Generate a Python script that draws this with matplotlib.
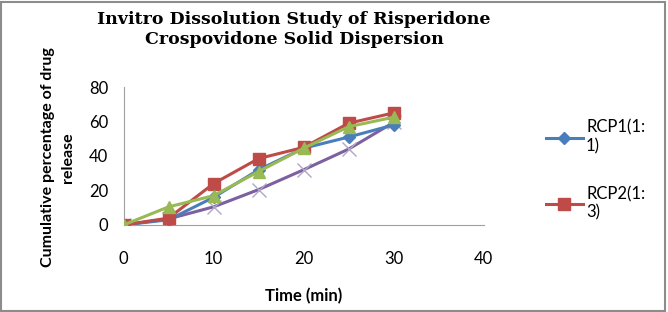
import matplotlib
matplotlib.use("Agg")
import matplotlib.pyplot as plt

time = [0, 5, 10, 15, 20, 25, 30]
rcp1 = [0, 3, 16, 32, 44.5, 51, 58]
rcp2 = [0, 4, 24, 38.5, 45, 59, 65]
rcp3 = [0, 10.5, 17, 31, 44.5, 57, 62.5]
rcp4 = [0, 3.5, 10.5, 20.5, 32, 44, 59.5]
labels = ["RCP1(1:\n1)", "RCP2(1:\n3)", "RCP3", "RCP4"]

plt.rcParams["font.family"] = ["Lato", "DejaVu Sans"]

fig = plt.figure(figsize=(6.68, 3.12), dpi=100)
ax = fig.add_axes([0.185, 0.279, 0.539, 0.442])

l1, = ax.plot(time, rcp1, color="#4a7ebb", lw=2.2, marker="D", ms=6, zorder=3)
l2, = ax.plot(time, rcp2, color="#be4b48", lw=2.2, marker="s", ms=9, zorder=4)
l3, = ax.plot(time, rcp3, color="#98b954", lw=2.2, marker="^", ms=9, zorder=5)
l4, = ax.plot(time, rcp4, color="#7d60a0", lw=2.2, marker="x", ms=10,
              mec="#b0a6c8", mew=1, zorder=2)

ax.set_xlim(0, 40)
ax.set_ylim(0, 80)
ax.set_xticks(range(0, 41, 10))
ax.set_yticks(range(0, 81, 20))
for s in ["top", "right"]:
    ax.spines[s].set_visible(False)
for s in ["left", "bottom"]:
    ax.spines[s].set_color("#a0a0a0")
ax.tick_params(length=0, labelsize=12)
ax.tick_params(axis="x", pad=19)
ax.tick_params(axis="y", pad=11)

ax.set_xlabel("Time (min)", fontsize=12, fontweight="bold", labelpad=15)
ax.set_ylabel("Cumulative percentage of drug\nrelease", fontsize=11.5,
              fontweight="bold", linespacing=1.5)
ax.yaxis.set_label_coords(-0.135, 0.49)
fig.text(0.44, 0.965, "Invitro Dissolution Study of Risperidone\nCrospovidone Solid Dispersion",
         ha="center", va="top", fontsize=12.5, fontweight="bold",
         family="DejaVu Serif", linespacing=1.25)

leg = fig.legend([l1, l2], labels[:2], loc="upper left", bbox_to_anchor=(0.795, 0.665),
                 frameon=False, fontsize=12, handlelength=2.2, handletextpad=0.2,
                 labelspacing=1.9)

fig.patches.append(plt.Rectangle((0.002, 0.004), 0.994, 0.99, transform=fig.transFigure,
                                 fill=False, ec="#8c8c8c", lw=1.5))

fig.savefig("out.png", dpi=100)
